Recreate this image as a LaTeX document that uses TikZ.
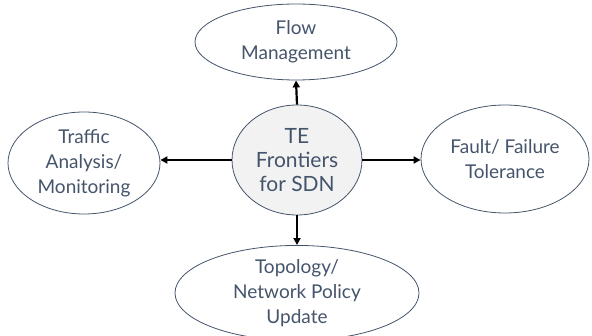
\documentclass[tikz,border=0pt]{standalone}
\usepackage{fontspec}
\setmainfont{Lato}
\usetikzlibrary{shapes.geometric,arrows.meta}
\definecolor{txt}{HTML}{44546A}
\definecolor{cfill}{HTML}{F2F2F2}
\begin{document}
\begin{tikzpicture}[x=1pt,y=-1pt,
  bubble/.style={ellipse,draw=txt,line width=0.8pt,inner sep=0pt,text=txt,align=center,
    font=\fontsize{19}{25}\selectfont},
  conn/.style={line width=2.2pt,-{Triangle[length=7pt,width=7pt]}}]
\useasboundingbox (0,0) rectangle (592,336);
\node[bubble,minimum width=202pt,minimum height=76pt] (flow) at (296,42) {Flow\\Management};
\node[bubble,fill=cfill,minimum width=130pt,minimum height=110pt,font=\fontsize{21}{24}\selectfont] (te) at (297,160) {TE\\Frontiers\\for SDN};
\node[bubble,minimum width=152pt,minimum height=102pt] (traffic) at (84,163) {Traffic\\Analysis/\\Monitoring};
\node[bubble,minimum width=168pt,minimum height=108pt] (fault) at (505,159) {Fault/ Failure\\Tolerance};
\node[bubble,minimum width=244pt,minimum height=84pt] (topo) at (297,293) {Topology/\\Network Policy\\Update};
\draw[conn] (te.north) -- (flow.south);
\draw[conn] (te.west) -- (te.west -| traffic.east);
\draw[conn] (te.east) -- (te.east -| fault.west);
\draw[conn] (te.south) -- (topo.north);
\end{tikzpicture}
\end{document}
